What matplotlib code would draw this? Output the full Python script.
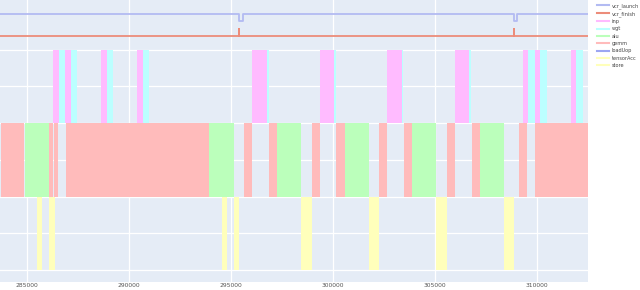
#!/usr/bin/env python3
"""Pipeline occupancy timeline (launch/finish markers + per-unit busy intervals)."""
import matplotlib

matplotlib.use("Agg")
import matplotlib.pyplot as plt
from matplotlib.lines import Line2D

BG = "#E5ECF6"
C_LAUNCH = "#B3BBF2"
C_FINISH = "#EC8C7A"
C_INP = "#FFBBFF"
C_WGT = "#BBFFFF"
C_ALU = "#BBFFBB"
C_GEMM = "#FFBBBB"
C_UOP = "#9CA6F2"
C_ACC = "#FFFFBB"
C_STORE = "#FFFFBB"

# busy intervals in cycles (start, end)
inp_start = [286289, 286877, 288627, 290392, 296030, 299363, 302662, 305981, 309314, 309902, 311667]
inp_end = [286569, 287157, 288922, 290672, 296750, 300049, 303368, 306682, 309574, 310162, 311927]
wgt_start = [286569, 287157, 288922, 290672, 296750, 300049, 303368, 306682, 309574, 310162, 311927]
wgt_end = [286877, 287466, 289230, 290980, 296848, 300132, 303446, 306765, 309902, 310490, 312270]
gemm_start = [283711, 286078, 286338, 286897, 295652, 296877, 298971, 300162, 302255, 303480,
              305574, 306814, 309118, 309917]
gemm_end = [284868, 286289, 286534, 293936, 296015, 297255, 299348, 300574, 302662, 303873,
            305966, 307206, 309510, 312515]
alu_start = [284902, 293936, 297255, 300574, 303873, 307206]
alu_end = [286078, 295162, 298446, 301765, 305049, 308382]
store_start = [285490, 286078, 294559, 295162, 298446, 301765, 305064, 308382]
store_end = [285735, 286358, 294804, 295392, 298971, 302255, 305588, 308873]
uop_start = []
uop_end = []
acc_start = []
acc_end = []

# vcr launch / finish events
launch_x = [283676, 295392, 295392, 295588, 295588, 308858, 308858, 309035, 309035, 312500]
launch_y = [6.98, 6.98, 6.78, 6.78, 6.98, 6.98, 6.78, 6.78, 6.98, 6.98]
finish_x = [283676, 295407, 295407, 295407, 308873, 308873, 308873, 312500]
finish_y = [6.38, 6.38, 6.57, 6.38, 6.38, 6.57, 6.38, 6.38]

xticks = [285000, 290000, 295000, 300000, 305000, 310000]


def bars(ax, starts, ends, bottom, color):
    widths = [e - s for s, e in zip(starts, ends)]
    ax.bar(starts, [2.0] * len(starts), width=widths, bottom=bottom, align="edge",
           color=color, linewidth=0, zorder=2)


fig = plt.figure(figsize=(6.4, 2.9), dpi=100)
ax = fig.add_axes([0.0, 1 - 282 / 290, 588 / 640, 282 / 290])
ax.set_facecolor(BG)

bars(ax, inp_start, inp_end, 4.0, C_INP)
bars(ax, wgt_start, wgt_end, 4.0, C_WGT)
bars(ax, gemm_start, gemm_end, 2.0, C_GEMM)
bars(ax, alu_start, alu_end, 2.0, C_ALU)
bars(ax, uop_start, uop_end, 2.0, C_UOP)
bars(ax, acc_start, acc_end, 0.0, C_ACC)
bars(ax, store_start, store_end, 0.0, C_STORE)

ax.plot(launch_x, launch_y, color=C_LAUNCH, lw=1.3, zorder=3)
ax.plot(finish_x, finish_y, color=C_FINISH, lw=1.3, zorder=3)

ax.set_xlim(283676, 312500)
ax.set_ylim(-0.33, 7.357)
ax.set_xticks(xticks)
ax.set_xticklabels([str(t) for t in xticks], fontsize=4.3, color="#555555")
ax.set_yticks([0, 1, 2, 3, 4, 5, 6])
ax.set_yticklabels([])
ax.tick_params(length=0, pad=1)
ax.grid(True, color="white", lw=0.9, zorder=1)
ax.set_axisbelow(True)
for s in ax.spines.values():
    s.set_visible(False)

names = ["vcr_launch", "vcr_finish", "inp", "wgt", "alu", "gemm", "loadUop", "tensorAcc", "store"]
colors = [C_LAUNCH, C_FINISH, C_INP, C_WGT, C_ALU, C_GEMM, C_UOP, C_ACC, C_STORE]
handles = [Line2D([], [], color=c, lw=1.5) for c in colors]
fig.legend(handles, names, loc="upper left", bbox_to_anchor=(594 / 640, 1.0), frameon=False,
           fontsize=3.6, handlelength=2.4, handletextpad=0.5, labelspacing=0.47,
           borderaxespad=0.2, labelcolor="#444444")

fig.savefig("out.png", dpi=100)
